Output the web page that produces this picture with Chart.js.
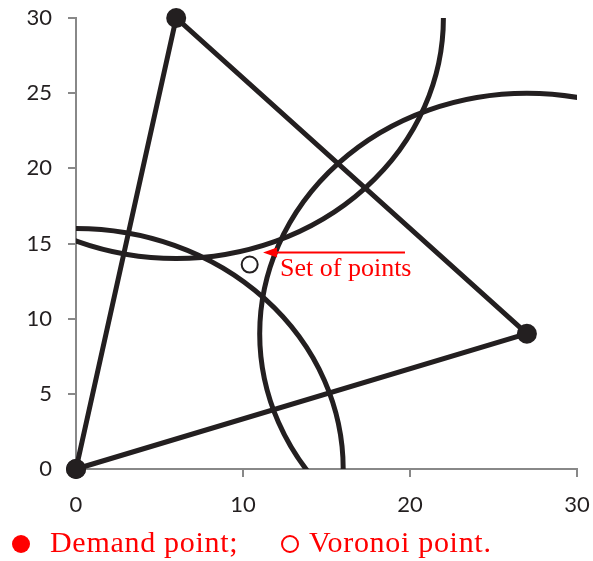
<!DOCTYPE html>
<html>
<head>
<meta charset="utf-8">
<script src="https://cdn.jsdelivr.net/npm/chart.js@4/dist/chart.umd.min.js"></script>
<style>
  body { margin: 0; background: #fff; }
  #wrap { position: relative; width: 593px; height: 561px; }
  .leg { position: absolute; top: 525px; font-family: "Liberation Serif", serif; font-size: 30px; color: #ff0000; white-space: nowrap; letter-spacing: 0.7px; }
  .dot { position: absolute; width: 18px; height: 18px; border-radius: 50%; box-sizing: border-box; }
</style>
</head>
<body>
<div id="wrap">
  <canvas id="myChart" width="593" height="561"></canvas>
  <div class="dot" style="left:12px; top:535px; background:#ff0000;"></div>
  <div class="leg" style="left:50px;">Demand point;</div>
  <div class="dot" style="left:281px; top:535px; border:2px solid #ff0000;"></div>
  <div class="leg" style="left:309px;">Voronoi point.</div>
</div>
<script>
const demandX = [0, 6, 27];
const demandY = [0, 30, 9];
const voronoiX = [10.4];
const voronoiY = [13.6];
const radius = 16;
const arrowFrom = [19.7, 14.4];
const arrowTo = [11.2, 14.4];
const arrowLabel = "Set of points";
const xTicks = [0, 10, 20, 30];
const yTicks = [0, 5, 10, 15, 20, 25, 30];

const ink = "#231f20";

const triangle = demandX.map((x, i) => ({ x: x, y: demandY[i] }));
triangle.push({ x: demandX[0], y: demandY[0] });

const circlesPlugin = {
  id: "circles",
  beforeDatasetsDraw(chart) {
    const ctx = chart.ctx, a = chart.chartArea;
    const xs = chart.scales.x, ys = chart.scales.y;
    ctx.save();
    ctx.beginPath();
    ctx.rect(a.left, a.top, a.right - a.left, a.bottom - a.top);
    ctx.clip();
    ctx.strokeStyle = ink;
    ctx.lineWidth = 5;
    demandX.forEach((cx, i) => {
      const px = xs.getPixelForValue(cx), py = ys.getPixelForValue(demandY[i]);
      const rx = xs.getPixelForValue(cx + radius) - px;
      const ry = py - ys.getPixelForValue(demandY[i] + radius);
      ctx.beginPath();
      ctx.ellipse(px, py, rx, ry, 0, 0, Math.PI * 2);
      ctx.stroke();
    });
    ctx.restore();
  },
  afterDatasetsDraw(chart) {
    const ctx = chart.ctx;
    const xs = chart.scales.x, ys = chart.scales.y;
    const x1 = xs.getPixelForValue(arrowFrom[0]), y1 = ys.getPixelForValue(arrowFrom[1]);
    const x2 = xs.getPixelForValue(arrowTo[0]), y2 = ys.getPixelForValue(arrowTo[1]);
    ctx.save();
    ctx.strokeStyle = "#ff0000";
    ctx.fillStyle = "#ff0000";
    ctx.lineWidth = 2;
    ctx.beginPath();
    ctx.moveTo(x1, y1);
    ctx.lineTo(x2 + 10, y2);
    ctx.stroke();
    ctx.beginPath();
    ctx.moveTo(x2, y2);
    ctx.lineTo(x2 + 14, y2 - 5);
    ctx.lineTo(x2 + 14, y2 + 5);
    ctx.closePath();
    ctx.fill();
    ctx.font = "26px 'Liberation Serif'";
    ctx.textBaseline = "alphabetic";
    ctx.fillText(arrowLabel, x2 + 17, y2 + 23);
    ctx.restore();
  }
};

new Chart(document.getElementById("myChart").getContext("2d"), {
  type: "scatter",
  data: {
    datasets: [{
      data: triangle,
      showLine: true,
      borderColor: ink,
      backgroundColor: ink,
      borderWidth: 5,
      pointRadius: 10,
      pointHoverRadius: 10,
      pointBorderWidth: 0,
      clip: false
    }, {
      data: voronoiX.map((x, i) => ({ x: x, y: voronoiY[i] })),
      borderColor: ink,
      backgroundColor: "#fff",
      borderWidth: 2,
      pointRadius: 8,
      clip: false
    }]
  },
  options: {
    responsive: false,
    animation: false,
    events: [],
    layout: { padding: { left: 0, right: 16, top: 18, bottom: 42 } },
    plugins: { legend: { display: false }, tooltip: { enabled: false } },
    scales: {
      x: {
        type: "linear", min: 0, max: 30,
        afterBuildTicks: s => { s.ticks = xTicks.map(v => ({ value: v })); },
        afterFit: s => { s.height = 50; s.paddingLeft = 0; s.paddingRight = 0; },
        grid: { drawOnChartArea: false, tickLength: 8, color: "#888", lineWidth: 2 },
        border: { color: "#888", width: 2 },
        ticks: { color: ink, font: { family: "Lato", size: 22 }, padding: 15 }
      },
      y: {
        type: "linear", min: 0, max: 30,
        afterBuildTicks: s => { s.ticks = yTicks.map(v => ({ value: v })); },
        afterFit: s => { s.width = 76; s.paddingTop = 0; s.paddingBottom = 0; },
        grid: { drawOnChartArea: false, tickLength: 8, color: "#888", lineWidth: 2 },
        border: { color: "#888", width: 2 },
        ticks: { color: ink, font: { family: "Lato", size: 22 }, padding: 16 }
      }
    }
  },
  plugins: [circlesPlugin]
});
</script>
</body>
</html>
